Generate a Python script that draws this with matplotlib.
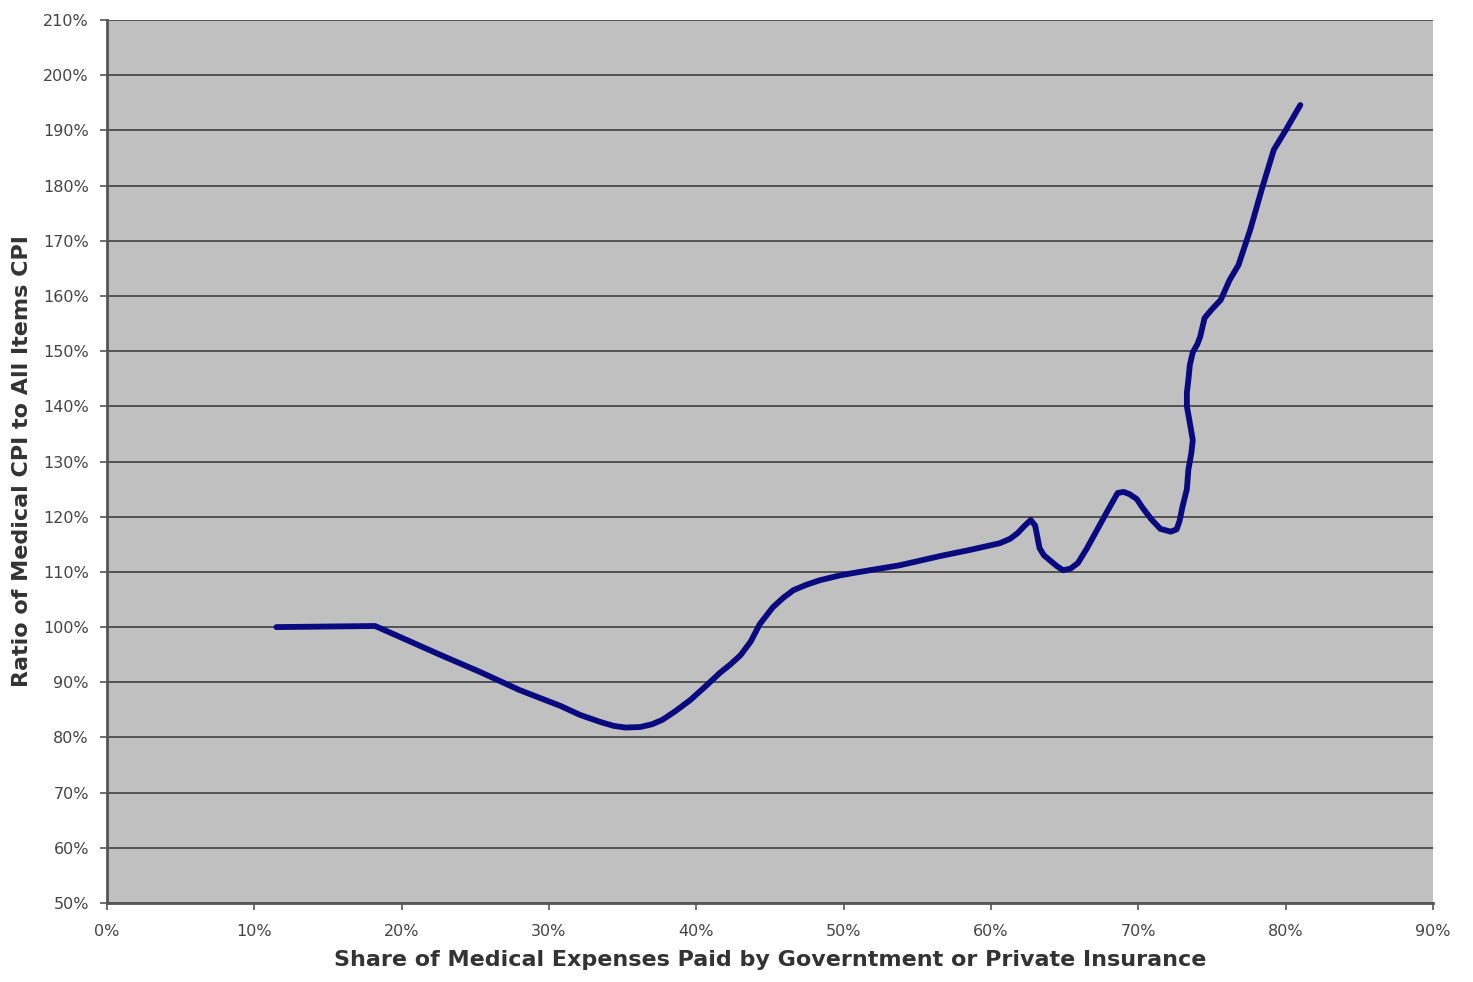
import matplotlib.pyplot as plt
from matplotlib.ticker import FuncFormatter

# share of medical expenses paid by third parties (%) vs. medical/all-items CPI ratio (%)
share_paid = [11.5, 18.2, 19.9, 22.6, 25.3, 28.0, 30.8, 32.1, 33.5, 34.4, 35.2, 36.2,
              37.0, 37.7, 38.6, 39.6, 40.6, 41.6, 42.3, 43.0, 43.7, 44.3, 45.2, 45.9,
              46.6, 47.5, 48.4, 49.8, 51.1, 53.8, 56.6, 58.6, 60.6, 61.3, 61.8, 62.3,
              62.7, 63.0, 63.3, 63.6, 64.0, 64.5, 64.9, 65.4, 65.9, 66.5, 67.2, 67.9,
              68.6, 69.0, 69.4, 69.9, 70.3, 70.9, 71.5, 72.2, 72.6, 72.8, 73.0, 73.3,
              73.4, 73.6, 73.7, 73.5, 73.3, 73.3, 73.4, 73.5, 73.7, 74.0, 74.2, 74.5,
              75.0, 75.6, 76.2, 76.8, 77.6, 78.4, 79.2, 80.0, 81.0]
cpi_ratio = [100.0, 100.2, 98.2, 95.0, 91.9, 88.6, 85.7, 84.1, 82.8, 82.1, 81.8, 81.9,
             82.4, 83.2, 84.8, 86.8, 89.2, 91.7, 93.2, 94.9, 97.4, 100.5, 103.6, 105.3,
             106.7, 107.7, 108.5, 109.4, 110.0, 111.2, 112.9, 114.0, 115.2, 116.0, 117.0, 118.4,
             119.4, 118.4, 114.3, 113.0, 112.1, 111.0, 110.3, 110.6, 111.6, 114.2, 117.6, 121.0,
             124.3, 124.5, 124.1, 123.2, 121.6, 119.5, 117.8, 117.3, 117.7, 119.2, 121.8, 125.0,
             128.5, 131.5, 133.9, 137.0, 140.0, 142.5, 144.8, 147.5, 149.8, 151.2, 152.6, 156.0,
             157.6, 159.3, 162.9, 165.6, 172.0, 179.5, 186.5, 190.0, 194.6]

x_ticks = list(range(0, 91, 10))
y_ticks = list(range(50, 211, 10))

fig = plt.figure(figsize=(14.73, 9.82), dpi=100)
ax = fig.add_axes([0.0726, 0.0804, 0.9002, 0.8992])
ax.set_facecolor('#c0c0c0')

ax.plot(share_paid, cpi_ratio, color='#0a0a80', linewidth=4.2, solid_capstyle='round',
        solid_joinstyle='round', zorder=3)

ax.set_xlim(0, 90)
ax.set_ylim(50, 210)
ax.set_xticks(x_ticks)
ax.set_yticks(y_ticks)
pct = FuncFormatter(lambda v, pos: f'{v:.0f}%')
ax.xaxis.set_major_formatter(pct)
ax.yaxis.set_major_formatter(pct)

ax.grid(axis='y', color='#4a4a4a', linewidth=1.3, zorder=1)
ax.grid(axis='x', visible=False)
for side in ['top', 'right']:
    ax.spines[side].set_visible(False)
for side in ['left', 'bottom']:
    ax.spines[side].set_color('#555555')
    ax.spines[side].set_linewidth(2)

ax.tick_params(axis='both', direction='out', length=5, width=1.2, color='#555555',
               labelsize=11.5, labelcolor='#444444')
ax.tick_params(axis='x', pad=10)
ax.tick_params(axis='y', pad=8)

ax.set_xlabel('Share of Medical Expenses Paid by Governtment or Private Insurance',
              fontsize=16, fontweight='bold', color='#333333', labelpad=8)
ax.set_ylabel('Ratio of Medical CPI to All Items CPI', fontsize=16, fontweight='bold',
              color='#333333', labelpad=8)

fig.savefig('out.png', dpi=100)
